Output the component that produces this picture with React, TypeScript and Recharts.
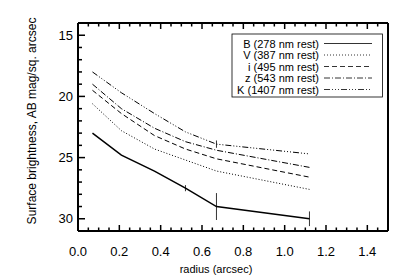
import React from "react";
import { LineChart, Line, XAxis, YAxis, ErrorBar } from "recharts";

const radius = [0.07, 0.21, 0.37, 0.52, 0.67, 1.12];
const bMag = [23.0, 24.8, 26.1, 27.5, 29.0, 30.0];
const vMag = [20.6, 22.8, 24.3, 25.2, 26.1, 27.6];
const iMag = [19.5, 21.4, 23.2, 24.3, 25.1, 26.6];
const zMag = [19.0, 21.0, 22.6, 23.7, 24.4, 25.8];
const kMag = [18.0, 19.7, 21.4, 22.9, 23.9, 24.7];
const bErr = [0, 0, 0, 0.25, 1.1, 0.6];
const kErr = [0, 0, 0, 0, 0.3, 0];

const xTicks = Array.from({ length: 31 }, (_, i) => +(i * 0.05).toFixed(2));
const yTicks = Array.from({ length: 16 }, (_, i) => 15 + i);

const seriesNames = [
  "B (278 nm rest)",
  "V (387 nm rest)",
  "i (495 nm rest)",
  "z (543 nm rest)",
  "K (1407 nm rest)",
];
const dashes = ["", "1 2", "5 3", "6 2 1 2", "6 2 1 2 1 2 1 2"];
const keys = ["B", "V", "i", "z", "K"];

const data = radius.map((r, i) => ({
  r,
  B: bMag[i],
  V: vMag[i],
  i: iMag[i],
  z: zMag[i],
  K: kMag[i],
  bErr: bErr[i],
  kErr: kErr[i],
}));

const FONT = "'Liberation Sans', Arial, Helvetica, sans-serif";
const TW = 1.5;
const MARGIN = { top: 22, right: 26, bottom: 0, left: 0 };

const isMajorX = (v: number) => Math.abs(v / 0.2 - Math.round(v / 0.2)) < 1e-6;
const isMajorY = (v: number) => v % 5 === 0;

// label-only ticks (main chart)
const BottomLabel = (props: any) => {
  const x = Number(props.x);
  const y = Number(props.y);
  const v = Number(props.payload.value);
  if (!isMajorX(v) || v > 1.45) return <g />;
  return (
    <text x={x} y={y + 25} textAnchor="middle" fontSize={13} fontFamily={FONT} fill="#000">
      {v.toFixed(1)}
    </text>
  );
};

const LeftLabel = (props: any) => {
  const x = Number(props.x);
  const y = Number(props.y);
  const v = Number(props.payload.value);
  if (!isMajorY(v)) return <g />;
  return (
    <text x={x - 5} y={y + 4.5} textAnchor="end" fontSize={13} fontFamily={FONT} fill="#000">
      {v}
    </text>
  );
};

// tick-mark-only ticks (overlay chart)
const BottomMark = (props: any) => {
  const x = Number(props.x);
  const y = Number(props.y);
  const major = isMajorX(Number(props.payload.value));
  return (
    <path d={`M${x},${y}L${x},${y - (major ? 6 : 3.5)}`} stroke="#000" strokeWidth={TW} fill="none" />
  );
};

const TopMark = (props: any) => {
  const x = Number(props.x);
  const y = Number(props.y);
  const major = isMajorX(Number(props.payload.value));
  return (
    <path d={`M${x},${y}L${x},${y + (major ? 6 : 3.5)}`} stroke="#000" strokeWidth={TW} fill="none" />
  );
};

const LeftMark = (props: any) => {
  const x = Number(props.x);
  const y = Number(props.y);
  const major = isMajorY(Number(props.payload.value));
  return (
    <path d={`M${x},${y}L${x + (major ? 7 : 4)},${y}`} stroke="#000" strokeWidth={TW} fill="none" />
  );
};

const RightMark = (props: any) => {
  const x = Number(props.x);
  const y = Number(props.y);
  const major = isMajorY(Number(props.payload.value));
  return (
    <path d={`M${x},${y}L${x - (major ? 7 : 4)},${y}`} stroke="#000" strokeWidth={TW} fill="none" />
  );
};

const LegendBox = () => (
  <svg
    width={415}
    height={277}
    style={{ position: "absolute", left: 0, top: 0, pointerEvents: "none" }}
  >
    <rect x={232} y={34} width={150.5} height={63} fill="#fff" stroke="#000" strokeWidth={0.8} />
    {seriesNames.map((name, i) => {
      const cy = 43.5 + i * 11.5;
      return (
        <g key={name}>
          <text x={319} y={cy + 4} textAnchor="end" fontSize={11} fontFamily={FONT} fill="#000">
            {name}
          </text>
          <line
            x1={324}
            x2={372}
            y1={cy}
            y2={cy}
            stroke="#000"
            strokeWidth={0.8}
            strokeDasharray={dashes[i] || undefined}
          />
        </g>
      );
    })}
  </svg>
);

const TickOverlay = () => (
  <div style={{ position: "absolute", left: 0, top: 0, pointerEvents: "none" }}>
    <LineChart width={415} height={277} data={data} margin={MARGIN}>
      <XAxis
        xAxisId="b"
        dataKey="r"
        type="number"
        domain={[0, 1.5]}
        ticks={xTicks}
        interval={0}
        height={46}
        tickSize={0}
        tickMargin={0}
        tickLine={false}
        axisLine={false}
        tick={<BottomMark />}
      />
      <XAxis
        xAxisId="t"
        dataKey="r"
        type="number"
        domain={[0, 1.5]}
        ticks={xTicks}
        interval={0}
        orientation="top"
        height={1}
        tickSize={0}
        tickMargin={0}
        tickLine={false}
        axisLine={false}
        tick={<TopMark />}
      />
      <YAxis
        yAxisId="l"
        type="number"
        domain={[14, 31]}
        reversed
        ticks={yTicks}
        interval={0}
        width={78}
        tickSize={0}
        tickMargin={0}
        tickLine={false}
        axisLine={false}
        tick={<LeftMark />}
      />
      <YAxis
        yAxisId="r"
        type="number"
        domain={[14, 31]}
        reversed
        ticks={yTicks}
        interval={0}
        orientation="right"
        width={1}
        tickSize={0}
        tickMargin={0}
        tickLine={false}
        axisLine={false}
        tick={<RightMark />}
      />
      <Line
        xAxisId="b"
        yAxisId="l"
        dataKey="B"
        stroke="none"
        dot={false}
        activeDot={false}
        isAnimationActive={false}
      />
    </LineChart>
  </div>
);

export default function App() {
  return (
    <div style={{ position: "absolute", left: 0, top: 0, width: 415, height: 277, background: "#fff" }}>
      <LineChart width={415} height={277} data={data} margin={MARGIN}>
        <XAxis
          xAxisId="b"
          dataKey="r"
          type="number"
          domain={[0, 1.5]}
          ticks={xTicks}
          interval={0}
          orientation="bottom"
          height={46}
          tickSize={0}
          tickMargin={0}
          tickLine={false}
          axisLine={{ stroke: "#000", strokeWidth: 2 }}
          tick={<BottomLabel />}
          label={{
            content: () => (
              <text x={216} y={273} textAnchor="middle" fontSize={11} fontFamily={FONT} fill="#000">
                radius (arcsec)
              </text>
            ),
          }}
        />
        <XAxis
          xAxisId="t"
          dataKey="r"
          type="number"
          domain={[0, 1.5]}
          ticks={xTicks}
          orientation="top"
          height={1}
          tickSize={0}
          tickMargin={0}
          tickLine={false}
          axisLine={{ stroke: "#000", strokeWidth: 2 }}
          tick={false}
        />
        <YAxis
          yAxisId="l"
          type="number"
          domain={[14, 31]}
          reversed
          ticks={yTicks}
          interval={0}
          orientation="left"
          width={78}
          tickSize={0}
          tickMargin={0}
          tickLine={false}
          axisLine={{ stroke: "#000", strokeWidth: 2 }}
          tick={<LeftLabel />}
          label={{
            content: () => (
              <text
                x={36}
                y={121}
                transform="rotate(-90 36 121)"
                textAnchor="middle"
                fontSize={12}
                fontFamily={FONT}
                fill="#000"
              >
                Surface brightness, AB mag/sq. arcsec
              </text>
            ),
          }}
        />
        <YAxis
          yAxisId="r"
          type="number"
          domain={[14, 31]}
          reversed
          ticks={yTicks}
          orientation="right"
          width={1}
          tickSize={0}
          tickMargin={0}
          tickLine={false}
          axisLine={{ stroke: "#000", strokeWidth: 2 }}
          tick={false}
        />
        {keys.map((k, i) => (
          <Line
            key={k}
            xAxisId="b"
            yAxisId="l"
            dataKey={k}
            stroke="#000"
            strokeWidth={k === "B" ? 1.5 : 1}
            strokeDasharray={dashes[i] || undefined}
            dot={false}
            activeDot={false}
            isAnimationActive={false}
          >
            {k === "B" ? (
              <ErrorBar dataKey="bErr" width={0} stroke="#000" strokeWidth={0.8} direction="y" />
            ) : null}
            {k === "K" ? (
              <ErrorBar dataKey="kErr" width={0} stroke="#000" strokeWidth={0.8} direction="y" />
            ) : null}
          </Line>
        ))}
      </LineChart>
      <TickOverlay />
      <LegendBox />
    </div>
  );
}
